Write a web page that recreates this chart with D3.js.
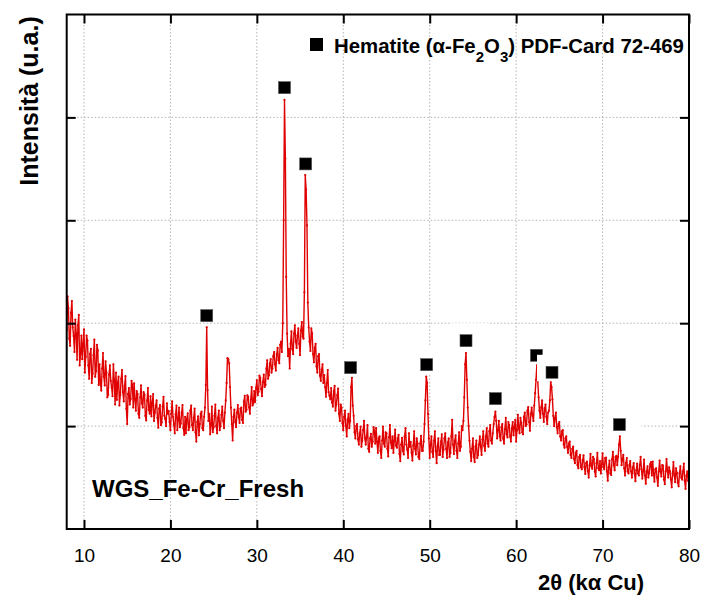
<!DOCTYPE html>
<html>
<head>
<meta charset="utf-8">
<script src="https://cdn.jsdelivr.net/npm/d3@7"></script>
<style>
  body { margin: 0; background: #fff; }
  svg { font-family: "Liberation Sans", Arial, sans-serif; }
</style>
</head>
<body>
<div id="chart"></div>
<script>
// scan: 2theta from 7.8 to 80.0, step 0.1
var startAngle = 7.8;
var stepAngle = 0.1;

// intensity (counts), twenty points per 2 degrees
var intensity = [
  2350, 2010, 1935, 2260, 2145, 1850, 1780, 2100, 2215, 1960, 1875, 1720, 2035, 1900, 1645, 1980, 2080, 1590, 1700, 1880,
  1650, 1800, 1940, 1520, 1675, 1880, 1830, 1590, 1460, 1700, 1750, 1420, 1510, 1690, 1840, 1480, 1535, 1790, 1735, 1400,
  1600, 1420, 1345, 1560, 1710, 1480, 1395, 1630, 1520, 1280, 1305, 1500, 1590, 1440, 1375, 1290, 1600, 1450, 1210, 1520,
  1255, 1420, 1480, 1200, 1305, 1460, 1545, 1330, 1240, 1390, 1485, 1170, 1020, 1310, 1370, 1210, 1265, 1440, 1400, 1180,
  1415, 1260, 1150, 1340, 1310, 1120, 1080, 1280, 1395, 1220, 1180, 1330, 1305, 1100, 1055, 1250, 1370, 1160, 1120, 1290,
  1095, 1230, 1310, 1050, 1130, 1200, 1250, 1080, 985, 1170, 1205, 1010, 1035, 1190, 1285, 1100, 1070, 1000, 1220, 1120,
  1145, 1040, 960, 1120, 1240, 1090, 1015, 930, 1115, 1200, 960, 1060, 1180, 990, 1025, 1130, 1205, 980, 915, 1090,
  930, 1070, 1125, 960, 990, 1150, 1200, 1010, 960, 1080, 1170, 940, 850, 1040, 1095, 910, 1020, 1120, 1140, 980,
  960, 1090, 1180, 1400, 1960, 1350, 1050, 1120, 920, 1010, 1190, 940, 990, 1100, 1210, 1000, 930, 1080, 1150, 960,
  1000, 1110, 1190, 1050, 980, 1130, 1250, 1420, 1660, 1650, 1610, 1380, 1180, 1020, 860, 1090, 1160, 1040, 990, 1130,
  1205, 1090, 1030, 1170, 1180, 1060, 1030, 1240, 1295, 1140, 1160, 1300, 1285, 1180, 1120, 1260, 1380, 1200, 1220, 1340,
  1235, 1370, 1445, 1300, 1335, 1490, 1470, 1360, 1290, 1430, 1500, 1380, 1400, 1560, 1640, 1460, 1495, 1610, 1650, 1520,
  1560, 1680, 1720, 1600, 1540, 1700, 1760, 1640, 1610, 1790, 1820, 1720, 2000, 3000, 4170, 3600, 2450, 1900, 1680, 1750,
  1560, 1800, 1920, 1750, 1700, 1900, 1980, 1820, 1760, 1880, 1950, 1800, 1690, 1930, 2010, 1870, 1850, 2300, 3440, 3300,
  2950, 2200, 1960, 1820, 1730, 1950, 1900, 1700, 1620, 1760, 1800, 1580, 1520, 1680, 1700, 1490, 1440, 1550, 1600, 1420,
  1495, 1380, 1285, 1420, 1545, 1330, 1295, 1260, 1370, 1230, 1190, 1340, 1390, 1150, 1210, 1300, 1365, 1120, 1050, 1210,
  1180, 1030, 960, 1090, 1150, 1000, 900, 1060, 1120, 980, 1050, 1380, 1470, 1200, 1100, 940, 880, 1000, 1020, 870,
  820, 930, 995, 800, 860, 960, 1050, 880, 820, 900, 1010, 780, 750, 880, 925, 800, 850, 990, 955, 830,
  980, 850, 740, 880, 900, 760, 690, 860, 995, 830, 800, 940, 930, 780, 705, 890, 1010, 840, 785, 900,
  740, 860, 965, 810, 790, 880, 915, 730, 660, 820, 885, 760, 725, 900, 980, 820, 770, 690, 930, 800,
  845, 740, 665, 810, 950, 780, 725, 880, 830, 700, 680, 830, 905, 760, 760, 850, 1020, 1250, 1480, 1420,
  1120, 880, 690, 820, 900, 750, 700, 860, 950, 760, 640, 800, 880, 720, 720, 850, 920, 700, 770, 880,
  930, 780, 690, 840, 880, 700, 740, 900, 1060, 820, 730, 860, 910, 760, 690, 830, 940, 760, 800, 1000,
  960, 1050, 1280, 1600, 1710, 1450, 1180, 1000, 860, 750, 660, 780, 880, 700, 650, 800, 860, 690, 720, 820,
  900, 800, 720, 870, 950, 810, 760, 900, 980, 830, 800, 950, 1010, 860, 830, 930, 1020, 1090, 1140, 1050,
  880, 960, 1050, 900, 860, 990, 1020, 880, 830, 970, 1080, 920, 890, 1040, 1010, 900, 850, 980, 1040, 910,
  990, 1060, 850, 960, 1110, 980, 930, 1080, 1035, 940, 920, 1090, 1130, 1000, 1015, 1150, 1185, 1040, 955, 1120,
  1180, 1100, 1050, 1200, 1320, 1450, 1600, 1440, 1280, 1150, 1080, 1180, 1250, 1120, 1040, 1170, 1210, 1090, 1020, 1130,
  1150, 1250, 1430, 1380, 1260, 1100, 1000, 1080, 1130, 990, 930, 1020, 1040, 900, 860, 950, 960, 820, 790, 880,
  900, 800, 740, 830, 850, 720, 690, 780, 800, 680, 640, 740, 760, 620, 590, 700, 720, 600, 580, 670,
  715, 600, 535, 640, 655, 560, 500, 620, 730, 610, 585, 700, 680, 560, 510, 640, 740, 590, 570, 660,
  540, 630, 735, 600, 580, 690, 695, 560, 470, 600, 665, 540, 525, 680, 750, 620, 570, 700, 710, 620,
  700, 820, 900, 760, 620, 680, 720, 590, 520, 640, 690, 560, 540, 620, 660, 560, 500, 600, 640, 540,
  465, 570, 635, 540, 520, 620, 700, 580, 490, 560, 675, 520, 440, 560, 610, 500, 545, 630, 650, 520,
  655, 540, 460, 580, 590, 500, 420, 560, 665, 560, 510, 620, 615, 480, 435, 560, 680, 570, 500, 600,
  560, 480, 405, 540, 650, 520, 455, 590, 545, 450, 415, 540, 610, 500, 480, 560, 635, 470, 390, 520,
  560, 470, 450
];

// hematite reflections (marker position and height)
var hematiteAngles = [24.2, 33.2, 35.65, 40.85, 49.65, 54.2, 57.6, 62.35, 64.15, 71.95];
var hematiteLevels = [2073, 4289, 3548, 1568, 1597, 1830, 1267, 1688, 1523, 1014];

var xTicks = [10, 20, 30, 40, 50, 60, 70, 80];
var yTicks = [1000, 2000, 3000, 4000];

var data = intensity.map(function(v, i) {
    return { angle: +(startAngle + i * stepAngle).toFixed(2), counts: v };
});

var W = 702, H = 596;
var margin = {left: 66.7, right: 689, top: 14.5, bottom: 529};

var svg = d3.select("#chart").append("svg")
    .attr("width", W)
    .attr("height", H);

var x = d3.scaleLinear().domain([8, 80]).range([margin.left, margin.right]);
var y = d3.scaleLinear().domain([0, 5000]).range([margin.bottom, margin.top]);

svg.append("defs").append("clipPath")
    .attr("id", "plotclip")
    .append("rect")
    .attr("x", margin.left).attr("y", margin.top)
    .attr("width", margin.right - margin.left).attr("height", margin.bottom - margin.top);

// dotted grid
var grid = svg.append("g");
grid.selectAll("line.vx")
    .data(xTicks.filter(function(d) { return d < 80; }))
    .enter().append("line")
    .attr("x1", function(d) { return x(d); })
    .attr("x2", function(d) { return x(d); })
    .attr("y1", margin.top)
    .attr("y2", margin.bottom)
    .attr("stroke", "#b4b4b4")
    .attr("stroke-width", 1)
    .attr("stroke-dasharray", "1.5,2");
grid.selectAll("line.hy")
    .data(yTicks)
    .enter().append("line")
    .attr("x1", margin.left)
    .attr("x2", margin.right)
    .attr("y1", function(d) { return y(d); })
    .attr("y2", function(d) { return y(d); })
    .attr("stroke", "#b4b4b4")
    .attr("stroke-width", 1)
    .attr("stroke-dasharray", "1.5,2");

// XRD pattern
var line = d3.line()
    .x(function(d) { return x(d.angle); })
    .y(function(d) { return y(d.counts); });

var plot = svg.append("g").attr("clip-path", "url(#plotclip)");
plot.append("path")
    .datum(data)
    .attr("d", line)
    .attr("fill", "none")
    .attr("stroke", "#e00000")
    .attr("stroke-width", 1.4)
    .attr("stroke-linejoin", "round");
plot.selectAll("circle")
    .data(data)
    .enter().append("circle")
    .attr("cx", function(d) { return x(d.angle); })
    .attr("cy", function(d) { return y(d.counts); })
    .attr("r", 1.1)
    .attr("fill", "#e00000");

// peak markers, each (but the first) sits on a white label box
var ms = 12;
var marks = svg.append("g");
hematiteAngles.forEach(function(a, i) {
    var cx = x(a), cy = y(hematiteLevels[i]);
    if (i > 0) {
        marks.append("rect")
            .attr("x", cx - ms / 2 - 9)
            .attr("y", cy - ms / 2 - 11.5)
            .attr("width", ms + 9 + 16)
            .attr("height", ms + 11.5 + 3)
            .attr("fill", "#fff");
    }
    marks.append("rect")
        .attr("x", cx - ms / 2)
        .attr("y", cy - ms / 2)
        .attr("width", ms)
        .attr("height", ms)
        .attr("fill", "#000")
        .attr("stroke", "#555")
        .attr("stroke-width", 0.6);
});

// axes: inward ticks on all four sides
var axB = svg.append("g")
    .attr("transform", "translate(0," + margin.bottom + ")")
    .call(d3.axisBottom(x).tickValues(xTicks).tickSize(-9).tickPadding(20).tickFormat(d3.format("d")));
var axT = svg.append("g")
    .attr("transform", "translate(0," + margin.top + ")")
    .call(d3.axisTop(x).tickValues(xTicks).tickSize(-9).tickFormat(""));
var axL = svg.append("g")
    .attr("transform", "translate(" + margin.left + ",0)")
    .call(d3.axisLeft(y).tickValues(yTicks).tickSize(-9).tickFormat(""));
var axR = svg.append("g")
    .attr("transform", "translate(" + margin.right + ",0)")
    .call(d3.axisRight(y).tickValues(yTicks).tickSize(-9).tickFormat(""));

[axB, axT, axL, axR].forEach(function(g) {
    g.select(".domain").remove();
    g.selectAll(".tick line").attr("stroke", "#000").attr("stroke-width", 2);
});
axB.selectAll(".tick text")
    .attr("fill", "#000")
    .style("font-size", "19px")
    .style("font-family", "Liberation Sans, Arial, sans-serif");

svg.append("rect")
    .attr("x", margin.left).attr("y", margin.top)
    .attr("width", margin.right - margin.left).attr("height", margin.bottom - margin.top)
    .attr("fill", "none")
    .attr("stroke", "#000")
    .attr("stroke-width", 2);

// axis titles
svg.append("text")
    .attr("x", 591)
    .attr("y", 590)
    .attr("text-anchor", "middle")
    .style("font-size", "22px")
    .style("font-weight", "bold")
    .text("2θ (kα Cu)");

svg.append("text")
    .attr("transform", "translate(38,101) rotate(-90)")
    .attr("text-anchor", "middle")
    .style("font-size", "25px")
    .style("font-weight", "bold")
    .text("Intensità (u.a.)");

svg.append("text")
    .attr("x", 92)
    .attr("y", 497)
    .style("font-size", "24px")
    .style("font-weight", "bold")
    .text("WGS_Fe-Cr_Fresh");

// legend
svg.append("rect")
    .attr("x", 310).attr("y", 38)
    .attr("width", 13).attr("height", 13)
    .attr("fill", "#000");
var leg = svg.append("text")
    .attr("x", 334)
    .attr("y", 53)
    .style("font-size", "20.4px")
    .style("font-weight", "bold");
leg.append("tspan").text("Hematite (α-Fe");
leg.append("tspan").attr("dy", 9).style("font-size", "15px").text("2");
leg.append("tspan").attr("dy", -9).text("O");
leg.append("tspan").attr("dy", 9).style("font-size", "15px").text("3");
leg.append("tspan").attr("dy", -9).text(") PDF-Card 72-469");
</script>
</body>
</html>
